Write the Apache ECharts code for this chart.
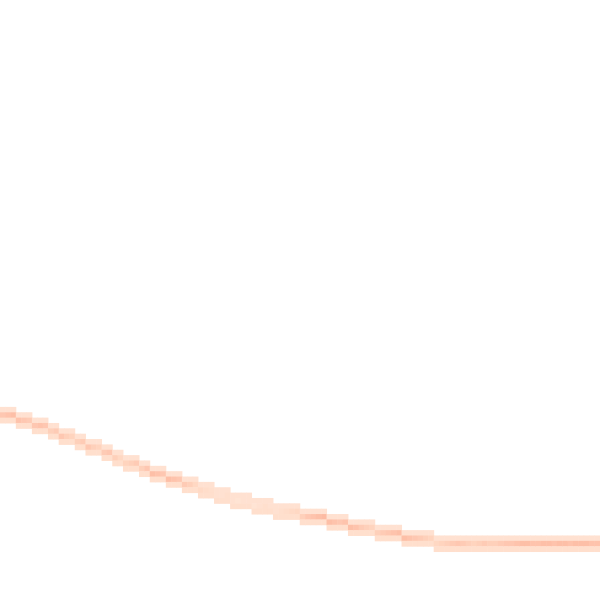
<!DOCTYPE html>
<html lang="en">
<head>
    <meta charset="UTF-8">
    <title>heatmap curve</title>
    <script src="https://cdn.jsdelivr.net/npm/echarts@6/dist/echarts.min.js"></script>
    <style>
        html, body { margin: 0; padding: 0; background: #fff; }
        #main { width: 600px; height: 600px; }
    </style>
</head>
<body>
<div id="main"></div>
<script type="text/javascript">
    // grid size (columns x rows)
    var gridSize = 112;

    // row of the darkest cell in each column (0 = top)
    var centerRow = [
        77, 77, 77, 78, 78, 78, 79, 79, 79, 80, 80,
        81, 81, 81, 82, 82, 83, 83, 83, 84, 84, 85, 85,
        86, 86, 86, 87, 87, 88, 88, 88, 89, 89, 89,
        90, 90, 90, 91, 91, 91, 92, 92, 92, 93, 93, 93, 93,
        94, 94, 94, 94, 95, 95, 95, 95, 95, 96, 96, 96, 96, 96,
        97, 97, 97, 97, 98, 98, 98, 98, 98, 99, 99, 99, 99, 99,
        100, 100, 100, 100, 100, 100,
        101, 101, 101, 101, 101, 101, 101, 101, 101, 101, 101, 101, 101, 101, 101, 101,
        101, 101, 101, 101, 101, 101, 101, 101, 101, 101, 101, 101, 101, 101, 101
    ];

    // intensity of that cell
    var coreLevel = [
        0.7, 0.75, 0.8, 0.75, 0.7, 0.65, 0.7, 0.75, 0.7, 0.6, 0.65, 0.7,
        0.6, 0.55, 0.6, 0.65, 0.7, 0.6, 0.55, 0.65, 0.7, 0.6, 0.5, 0.55, 0.6, 0.65, 0.6, 0.7,
        0.8, 0.75, 0.7, 0.8, 0.75, 0.7, 0.65, 0.6, 0.5, 0.45,
        0.4, 0.35, 0.3, 0.3, 0.35, 0.3, 0.25, 0.3, 0.3, 0.25, 0.3, 0.35, 0.3, 0.3, 0.35, 0.4, 0.45, 0.5,
        0.6, 0.7, 0.75, 0.8, 0.85, 0.8, 0.75, 0.7, 0.75, 0.8, 0.75,
        0.65, 0.6, 0.55, 0.6, 0.65, 0.7, 0.75, 0.8, 0.8, 0.75, 0.7, 0.65, 0.6, 0.55,
        0.5, 0.55, 0.6, 0.65, 0.7, 0.65, 0.6, 0.55, 0.6, 0.65, 0.6, 0.6, 0.65, 0.7, 0.7,
        0.75, 0.8, 0.8, 0.75, 0.75, 0.8, 0.8, 0.75, 0.8, 0.8, 0.75, 0.8, 0.8, 0.8, 0.75, 0.75
    ];

    // intensity of the paler cells above and below
    var upperLevel = 0.3;
    var lowerLevel = 0.35;

    var cats = [];
    for (var i = 0; i < gridSize; i++) cats.push(i);

    var data = [];
    for (var c = 0; c < centerRow.length; c++) {
        data.push([c, centerRow[c] - 1, upperLevel]);
        data.push([c, centerRow[c], coreLevel[c]]);
        data.push([c, centerRow[c] + 1, lowerLevel]);
    }

    var myChart = echarts.init(document.getElementById('main'));
    var option = {
        animation: false,
        grid: { left: 0, right: 0, top: 0, bottom: 0 },
        xAxis: {
            type: 'category', data: cats,
            axisLine: { show: false }, axisTick: { show: false },
            axisLabel: { show: false }, splitLine: { show: false }
        },
        yAxis: {
            type: 'category', data: cats, inverse: true,
            axisLine: { show: false }, axisTick: { show: false },
            axisLabel: { show: false }, splitLine: { show: false }
        },
        visualMap: {
            show: false, min: 0, max: 1,
            inRange: { color: ['#ffefe5', '#ffd8c3', '#fcae95'] }
        },
        series: [{
            type: 'heatmap',
            data: data,
            itemStyle: { borderWidth: 0 },
            emphasis: { disabled: true }
        }]
    };
    myChart.setOption(option);
</script>
</body>
</html>
